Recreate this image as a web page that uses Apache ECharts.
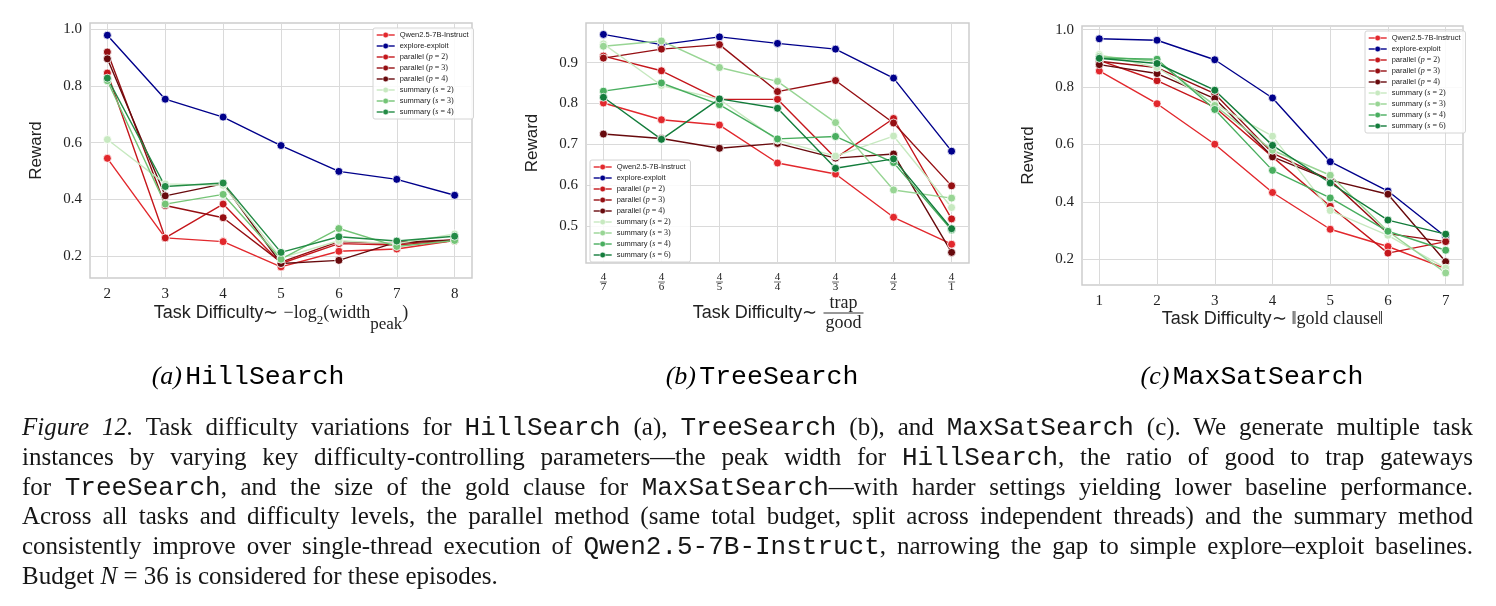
<!DOCTYPE html>
<html>
<head>
<meta charset="utf-8">
<script src="https://cdn.jsdelivr.net/npm/echarts@6/dist/echarts.min.js"></script>
<style>
  body { margin: 0; background: #fff; }
  #chart { position: absolute; left: 0; top: 0; width: 1496px; height: 606px; }
  .cap { position: absolute; left: 22px; width: 1451px; height: 30px; line-height: 30px;
         font-family: "Liberation Serif"; font-size: 25px; color: #161616;
         white-space: nowrap; text-align: justify; text-align-last: justify; }
  .cap.last { text-align-last: left; }
  .cap tt { font-family: "Liberation Mono"; font-size: 26px; }
</style>
</head>
<body>
<div id="chart"></div>
<div class="cap" style="top:412px"><i>Figure 12.</i> Task difficulty variations for <tt>HillSearch</tt> (a), <tt>TreeSearch</tt> (b), and <tt>MaxSatSearch</tt> (c). We generate multiple task</div>
<div class="cap" style="top:442px">instances by varying key difficulty-controlling parameters—the peak width for <tt>HillSearch</tt>, the ratio of good to trap gateways</div>
<div class="cap" style="top:472px">for <tt>TreeSearch</tt>, and the size of the gold clause for <tt>MaxSatSearch</tt>—with harder settings yielding lower baseline performance.</div>
<div class="cap" style="top:501px">Across all tasks and difficulty levels, the parallel method (same total budget, split across independent threads) and the summary method</div>
<div class="cap" style="top:531px">consistently improve over single-thread execution of <tt>Qwen2.5-7B-Instruct</tt>, narrowing the gap to simple explore–exploit baselines.</div>
<div class="cap last" style="top:561px">Budget <i>N</i> = 36 is considered for these episodes.</div>
<script>
// series names, shared by the three panels
const names = ["Qwen2.5-7B-Instruct", "explore-exploit", "parallel (p = 2)", "parallel (p = 3)",
  "parallel (p = 4)", "summary (s = 2)", "summary (s = 3)", "summary (s = 4)", "summary (s = 6)"];

// (a) HillSearch
const hillX = [2, 3, 4, 5, 6, 7, 8];
const hillQwen = [0.545, 0.265, 0.252, 0.163, 0.218, 0.226, 0.256];
const hillExplore = [0.978, 0.753, 0.690, 0.590, 0.499, 0.471, 0.415];
const hillP2 = [0.845, 0.265, 0.384, 0.175, 0.245, 0.240, 0.255];
const hillP3 = [0.919, 0.379, 0.336, 0.180, 0.252, 0.245, 0.258];
const hillP4 = [0.895, 0.413, 0.455, 0.175, 0.186, 0.250, 0.258];
const hillS2 = [0.611, 0.455, 0.450, 0.195, 0.255, 0.245, 0.279];
const hillS3 = [0.818, 0.384, 0.418, 0.190, 0.298, 0.235, 0.256];
const hillS4 = [0.827, 0.446, 0.458, 0.214, 0.269, 0.254, 0.271];

// (b) TreeSearch
const treeTicks = ["4/7", "4/6", "4/5", "4/4", "4/3", "4/2", "4/1"];
const treeQwen = [0.801, 0.760, 0.747, 0.654, 0.627, 0.521, 0.455];
const treeExplore = [0.969, 0.944, 0.963, 0.947, 0.933, 0.862, 0.683];
const treeP2 = [0.916, 0.880, 0.810, 0.810, 0.666, 0.763, 0.517];
const treeP3 = [0.911, 0.933, 0.944, 0.829, 0.856, 0.752, 0.598];
const treeP4 = [0.725, 0.714, 0.690, 0.702, 0.666, 0.676, 0.435];
const treeS2 = [0.946, 0.844, 0.810, 0.710, 0.671, 0.720, 0.545];
const treeS3 = [0.940, 0.953, 0.888, 0.854, 0.753, 0.588, 0.568];
const treeS4 = [0.830, 0.850, 0.797, 0.713, 0.719, 0.655, 0.490];
const treeS6 = [0.815, 0.712, 0.811, 0.788, 0.641, 0.664, 0.493];

// (c) MaxSatSearch
const satX = [1, 2, 3, 4, 5, 6, 7];
const satQwen = [0.856, 0.742, 0.601, 0.433, 0.305, 0.245, 0.168];
const satExplore = [0.968, 0.963, 0.895, 0.762, 0.540, 0.438, 0.279];
const satP2 = [0.893, 0.822, 0.730, 0.557, 0.385, 0.222, 0.262];
const satP3 = [0.890, 0.868, 0.777, 0.570, 0.476, 0.290, 0.262];
const satP4 = [0.878, 0.847, 0.760, 0.557, 0.476, 0.427, 0.192];
const satS2 = [0.913, 0.868, 0.740, 0.629, 0.370, 0.284, 0.170];
const satS3 = [0.907, 0.890, 0.736, 0.580, 0.493, 0.298, 0.153];
const satS4 = [0.901, 0.897, 0.722, 0.510, 0.414, 0.298, 0.232];
const satS6 = [0.900, 0.882, 0.789, 0.597, 0.466, 0.337, 0.288];

const rewardTicks = [0.2, 0.4, 0.6, 0.8, 1.0];
const treeRewardTicks = [0.5, 0.6, 0.7, 0.8, 0.9];

// colours
const red = "#e2282d", navy = "#00008b";
const reds = ["#c5171c", "#950f13", "#680a0d"];
const greens3 = ["#c7e9c0", "#74c476", "#238b45"];
const greens4 = ["#c7e9c0", "#98d594", "#49ae5f", "#137c3b"];

const SANS = "Liberation Sans", SERIF = "Liberation Serif", MONO = "Liberation Mono";
const TXT = "#222";

function line(gi, name, xs, ys, color) {
  return {
    type: "line", name: name, xAxisIndex: gi, yAxisIndex: gi,
    data: xs.map((x, i) => [x, ys[i]]),
    symbol: "circle", symbolSize: 8,
    lineStyle: { width: 1.4, color: color },
    itemStyle: { color: color, borderColor: "#fff", borderWidth: 0.8 },
    emphasis: { disabled: true }
  };
}

const treeIdx = treeTicks.map((t, i) => i);

const series = [
  line(0, names[0], hillX, hillQwen, red),
  line(0, names[1], hillX, hillExplore, navy),
  line(0, names[2], hillX, hillP2, reds[0]),
  line(0, names[3], hillX, hillP3, reds[1]),
  line(0, names[4], hillX, hillP4, reds[2]),
  line(0, names[5], hillX, hillS2, greens3[0]),
  line(0, names[6], hillX, hillS3, greens3[1]),
  line(0, names[7], hillX, hillS4, greens3[2]),

  line(1, names[0], treeIdx, treeQwen, red),
  line(1, names[1], treeIdx, treeExplore, navy),
  line(1, names[2], treeIdx, treeP2, reds[0]),
  line(1, names[3], treeIdx, treeP3, reds[1]),
  line(1, names[4], treeIdx, treeP4, reds[2]),
  line(1, names[5], treeIdx, treeS2, greens4[0]),
  line(1, names[6], treeIdx, treeS3, greens4[1]),
  line(1, names[7], treeIdx, treeS4, greens4[2]),
  line(1, names[8], treeIdx, treeS6, greens4[3]),

  line(2, names[0], satX, satQwen, red),
  line(2, names[1], satX, satExplore, navy),
  line(2, names[2], satX, satP2, reds[0]),
  line(2, names[3], satX, satP3, reds[1]),
  line(2, names[4], satX, satP4, reds[2]),
  line(2, names[5], satX, satS2, greens4[0]),
  line(2, names[6], satX, satS3, greens4[1]),
  line(2, names[7], satX, satS4, greens4[2]),
  line(2, names[8], satX, satS6, greens4[3])
];

function legendText(name) {
  const m = name.match(/^(\w+) \((\w) = (\d)\)$/);
  if (!m) return "{n|" + name + "}";
  return "{n|" + m[1] + " }{m|(}{i|" + m[2] + "}{m| = " + m[3] + ")}";
}

function legend(left, top, count, greens) {
  const cols = [red, navy, reds[0], reds[1], reds[2]].concat(greens);
  return {
    orient: "vertical", left: left, top: top,
    data: names.slice(0, count).map((n, i) => ({
      name: n, itemStyle: { color: cols[i], borderColor: "#fff", borderWidth: 0.5 },
      lineStyle: { color: cols[i], width: 1.4 }
    })),
    itemWidth: 18, itemHeight: 7, itemGap: 3, itemTextGap: 5,
    backgroundColor: "rgba(255,255,255,0.85)", borderColor: "#d4d4d4", borderWidth: 1,
    borderRadius: 2, padding: [3, 5, 3, 3],
    selectedMode: false,
    formatter: legendText,
    textStyle: {
      color: TXT, lineHeight: 7,
      rich: {
        n: { fontFamily: SANS, fontSize: 7.5, lineHeight: 7, color: TXT },
        m: { fontFamily: SERIF, fontSize: 8, lineHeight: 7, color: TXT },
        i: { fontFamily: SERIF, fontStyle: "italic", fontSize: 8, lineHeight: 7, color: TXT }
      }
    }
  };
}

const splitStyle = { show: true, lineStyle: { color: "#dadada", width: 1 } };
const tickFont = { fontFamily: SERIF, fontSize: 15, color: TXT };

function xAxis(gi, min, max, ticks, extra) {
  return Object.assign({
    type: "value", gridIndex: gi, min: min, max: max,
    axisLine: { show: false },
    axisTick: { show: false, customValues: ticks },
    axisLabel: Object.assign({ customValues: ticks, margin: 9 }, tickFont),
    splitLine: splitStyle,
    nameLocation: "middle", nameMoveOverlap: false
  }, extra);
}

function yAxis(gi, min, max, ticks) {
  return {
    type: "value", gridIndex: gi, min: min, max: max,
    axisLine: { show: false },
    axisTick: { show: false, customValues: ticks },
    axisLabel: Object.assign({ customValues: ticks, margin: 8, formatter: v => v.toFixed(1) }, tickFont),
    splitLine: splitStyle,
    name: "Reward", nameLocation: "middle", nameGap: 45, nameMoveOverlap: false,
    nameTextStyle: { fontFamily: SANS, fontSize: 17, color: TXT }
  };
}

const titleRich = {
  t: { fontFamily: SANS, fontSize: 18, lineHeight: 20, verticalAlign: "top", color: TXT },
  m: { fontFamily: SERIF, fontSize: 18, lineHeight: 20, verticalAlign: "top", color: TXT },
  s1: { fontFamily: SERIF, fontSize: 13, lineHeight: 14, padding: [10, 0, 0, 0], verticalAlign: "top", color: TXT },
  s2: { fontFamily: SERIF, fontSize: 17, lineHeight: 16, padding: [12, 0, 0, 0], verticalAlign: "top", color: TXT }
};

const fracRich = {
  g: { width: 132, lineHeight: 16 },
  t: { fontFamily: SANS, fontSize: 18, width: 132, lineHeight: 4, color: TXT },
  n: { fontFamily: SERIF, fontSize: 18, width: 42, align: "center", lineHeight: 16, color: TXT },
  bar: { width: 40, height: 1, lineHeight: 4, backgroundColor: "#333" }
};

const chart = echarts.init(document.getElementById("chart"), null, { renderer: "canvas" });

chart.setOption({
  animation: false,
  backgroundColor: "#fff",
  grid: [
    { left: 90, top: 23, width: 382, height: 255 },
    { left: 586, top: 23, width: 383, height: 240 },
    { left: 1082, top: 26, width: 381, height: 259 }
  ].map(g => Object.assign({ show: true, borderColor: "#cdcdcd", borderWidth: 1.5, outerBoundsMode: "none" }, g)),
  xAxis: [
    xAxis(0, 1.7, 8.3, hillX, {
      name: "{t|Task Difficulty∼ }{m|−log}{s1|2}{m|(width}{s2|peak}{m|)}",
      nameGap: 26, nameTextStyle: { rich: titleRich }
    }),
    xAxis(1, -0.3, 6.3, treeIdx, {
      axisLabel: {
        customValues: treeIdx, margin: 10,
        formatter: v => {
          const p = treeTicks[Math.round(v)].split("/");
          return "{n|" + p[0] + "}\n{b| }\n{n|" + p[1] + "}";
        },
        rich: {
          n: { fontFamily: SERIF, fontSize: 11, lineHeight: 8, width: 8, align: "center", color: TXT },
          b: { width: 7, height: 0.8, lineHeight: 2, backgroundColor: "#444" }
        }
      },
      name: "{g|}{n|trap}\n{t|Task Difficulty∼ }{bar| }\n{g|}{n|good}",
      nameGap: 32, nameTextStyle: { rich: fracRich }
    }),
    xAxis(2, 0.7, 7.3, satX, {
      name: "{t|Task Difficulty∼ }{m|‖gold clause‖}",
      nameGap: 25, nameTextStyle: { rich: titleRich }
    })
  ],
  yAxis: [
    yAxis(0, 0.124, 1.021, rewardTicks),
    yAxis(1, 0.409, 0.997, treeRewardTicks),
    yAxis(2, 0.111, 1.0125, rewardTicks)
  ],
  legend: [
    legend(373, 28, 8, greens3),
    legend(590, 160, 9, greens4),
    legend(1365, 31, 9, greens4)
  ],
  graphic: [
    ["(a)", "HillSearch", 248], ["(b)", "TreeSearch", 762], ["(c)", "MaxSatSearch", 1252]
  ].map(c => ({
    type: "text", x: c[2], y: 377,
    style: {
      text: "{i|" + c[0] + "} {m|" + c[1] + "}", align: "center", verticalAlign: "middle",
      rich: {
        i: { fontFamily: SERIF, fontStyle: "italic", fontSize: 26, color: "#161616" },
        m: { fontFamily: MONO, fontSize: 26.5, color: "#161616" }
      }
    }
  })),
  series: series
});
</script>
</body>
</html>
